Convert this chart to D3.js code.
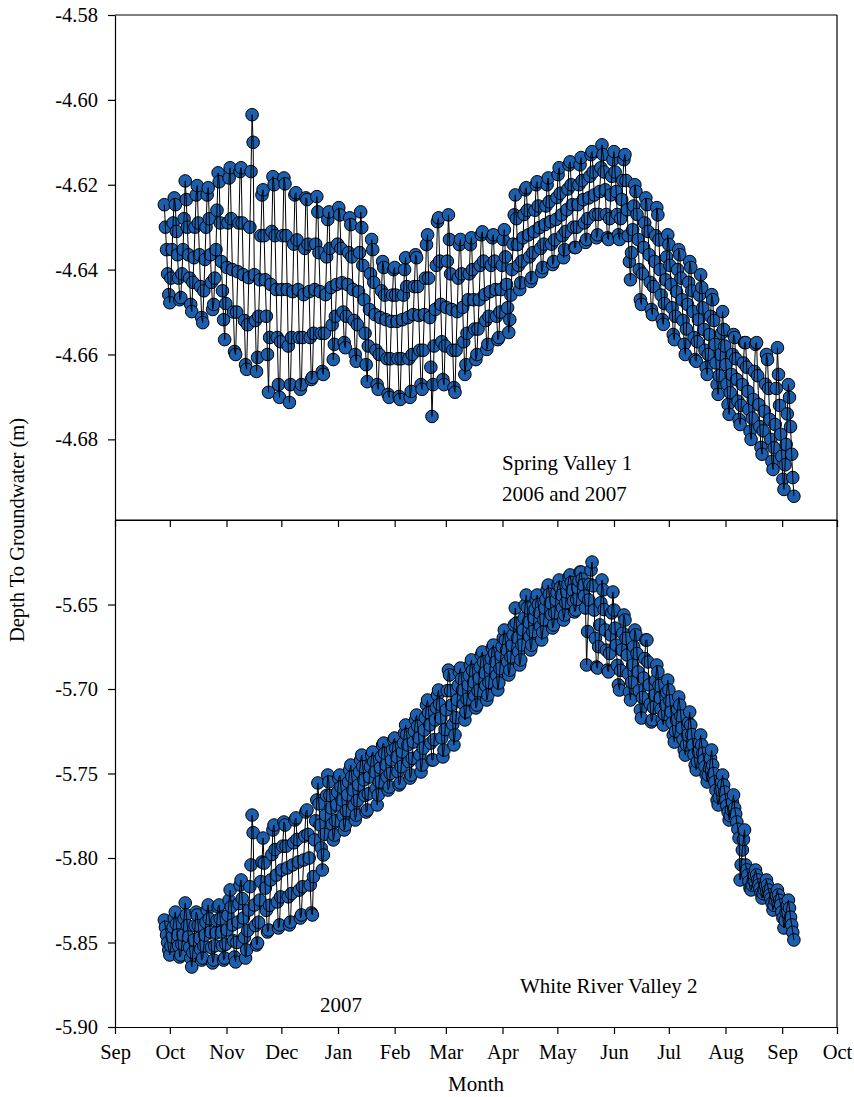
<!DOCTYPE html>
<html lang="en">
<head>
    <meta charset="UTF-8">
    <title>Depth To Groundwater</title>
    <script src="https://d3js.org/d3.v7.min.js"></script>
    <style>
        body {
            margin: 0;
            background: #fff;
        }

        svg text {
            font-family: "Liberation Serif", "Times New Roman", serif;
            fill: #000;
        }

        .axis path,
        .axis line {
            stroke: #000;
            stroke-width: 1.2px;
        }

        .axis text {
            font-size: 20.5px;
        }

        .trace {
            fill: none;
            stroke: #000;
            stroke-width: 1px;
        }

        .pt {
            fill: #1c5fae;
            stroke: #000;
            stroke-width: 1px;
        }
    </style>
</head>
<body>
    <script>
        // sample days, counted from 1 Sep 2006
        const sampleDay = [
            27, 30, 33, 36, 39, 42, 45, 48, 51, 54,
            57, 60, 63, 66, 69, 72, 75, 78, 81, 84,
            87, 90, 93, 96, 99, 102, 105, 108, 111, 114,
            117, 120, 123, 126, 129, 132, 135, 138, 141, 144,
            147, 150, 153, 156, 159, 162, 165, 168, 171, 174,
            177, 180, 183, 186, 189, 192, 195, 198, 201, 204,
            207, 210, 213, 216, 219, 222, 225, 228, 231, 234,
            237, 240, 243, 246, 249, 252, 255, 258, 261, 264,
            267, 270, 273, 276, 279, 282, 285, 288, 291, 294,
            297, 300, 303, 306, 309, 312, 315, 318, 321, 324,
            327, 330, 333, 336, 339, 342, 345, 348, 351, 354,
            357, 360, 363, 366, 369
        ];
        // hours into each sample window at which the five readings fall
        const readingHour = [0, 14, 29, 43, 58];

        // Spring Valley 1: readings across each swing, top to bottom (m)
        const springHigh = [
            -4.6247, -4.6231, -4.6247, -4.6191, -4.6235, -4.6224, -4.6202, -4.6224, -4.6207, -4.6172,
            -4.6193, -4.6184, -4.6160, -4.6169, -4.6160, -4.6169, -4.6035, -4.6224, -4.6212, -4.6181,
            -4.6200, -4.6184, -4.6198, -4.6224, -4.6219, -4.6231, -4.6235, -4.6228, -4.6264, -4.6282,
            -4.6264, -4.6254, -4.6271, -4.6278, -4.6294, -4.6264, -4.6301, -4.6329, -4.6353, -4.6381,
            -4.6395, -4.6400, -4.6395, -4.6400, -4.6372, -4.6365, -4.6372, -4.6341, -4.6318, -4.6287,
            -4.6278, -4.6271, -4.6329, -4.6341, -4.6329, -4.6341, -4.6325, -4.6318, -4.6311, -4.6325,
            -4.6318, -4.6329, -4.6306, -4.6271, -4.6224, -4.6212, -4.6207, -4.6200, -4.6193, -4.6200,
            -4.6184, -4.6176, -4.6160, -4.6153, -4.6146, -4.6153, -4.6136, -4.6129, -4.6122, -4.6106,
            -4.6129, -4.6141, -4.6122, -4.6141, -4.6129, -4.6200, -4.6216, -4.6231, -4.6247, -4.6254,
            -4.6271, -4.6318, -4.6341, -4.6353, -4.6365, -4.6381, -4.6395, -4.6412, -4.6442, -4.6459,
            -4.6471, -4.6499, -4.6541, -4.6553, -4.6560, -4.6572, -4.6572, -4.6576, -4.6572, -4.6600,
            -4.6612, -4.6584, -4.6647, -4.6671, -4.6701
        ];
        const springUpper = [
            -4.630, -4.629, -4.631, -4.628, -4.630, -4.630, -4.629, -4.630, -4.628, -4.626,
            -4.629, -4.629, -4.628, -4.629, -4.629, -4.630, -4.610, -4.632, -4.632, -4.631,
            -4.632, -4.632, -4.632, -4.634, -4.633, -4.635, -4.634, -4.634, -4.636, -4.637,
            -4.635, -4.634, -4.635, -4.636, -4.637, -4.636, -4.639, -4.641, -4.643, -4.645,
            -4.646, -4.646, -4.646, -4.646, -4.644, -4.644, -4.644, -4.642, -4.642, -4.639,
            -4.638, -4.638, -4.641, -4.642, -4.641, -4.641, -4.640, -4.639, -4.638, -4.639,
            -4.638, -4.639, -4.637, -4.634, -4.628, -4.627, -4.626, -4.626, -4.625, -4.625,
            -4.624, -4.623, -4.622, -4.621, -4.620, -4.620, -4.619, -4.618, -4.617, -4.616,
            -4.617, -4.618, -4.617, -4.619, -4.619, -4.625, -4.627, -4.629, -4.631, -4.632,
            -4.633, -4.637, -4.639, -4.640, -4.642, -4.643, -4.645, -4.646, -4.649, -4.651,
            -4.652, -4.655, -4.658, -4.660, -4.661, -4.662, -4.663, -4.664, -4.665, -4.667,
            -4.668, -4.668, -4.672, -4.674, -4.677
        ];
        const springMid = [
            -4.6353, -4.6353, -4.6365, -4.6353, -4.6365, -4.6372, -4.6365, -4.6376, -4.6365, -4.6353,
            -4.6381, -4.6395, -4.6400, -4.6405, -4.6412, -4.6419, -4.6412, -4.6424, -4.6424, -4.6435,
            -4.6447, -4.6447, -4.6447, -4.6452, -4.6447, -4.6459, -4.6452, -4.6447, -4.6452, -4.6459,
            -4.6442, -4.6435, -4.6431, -4.6435, -4.6447, -4.6452, -4.6471, -4.6494, -4.6506, -4.6513,
            -4.6518, -4.6522, -4.6522, -4.6518, -4.6513, -4.6506, -4.6508, -4.6506, -4.6513, -4.6494,
            -4.6482, -4.6489, -4.6494, -4.6499, -4.6489, -4.6471, -4.6471, -4.6471, -4.6459, -4.6452,
            -4.6447, -4.6447, -4.6435, -4.6400, -4.6341, -4.6325, -4.6318, -4.6311, -4.6301, -4.6294,
            -4.6287, -4.6282, -4.6271, -4.6259, -4.6247, -4.6247, -4.6235, -4.6231, -4.6224, -4.6216,
            -4.6212, -4.6224, -4.6216, -4.6235, -4.6259, -4.6306, -4.6329, -4.6348, -4.6365, -4.6381,
            -4.6400, -4.6424, -4.6435, -4.6452, -4.6471, -4.6482, -4.6499, -4.6518, -4.6541, -4.6553,
            -4.6576, -4.6600, -4.6624, -4.6647, -4.6659, -4.6671, -4.6687, -4.6706, -4.6718, -4.6734,
            -4.6753, -4.6765, -4.6788, -4.6812, -4.6835
        ];
        const springLower = [
            -4.641, -4.642, -4.642, -4.641, -4.642, -4.643, -4.644, -4.645, -4.643, -4.642,
            -4.645, -4.648, -4.650, -4.650, -4.652, -4.653, -4.652, -4.651, -4.651, -4.656,
            -4.656, -4.657, -4.658, -4.656, -4.656, -4.656, -4.656, -4.655, -4.655, -4.655,
            -4.653, -4.651, -4.650, -4.651, -4.652, -4.653, -4.655, -4.658, -4.659, -4.660,
            -4.661, -4.661, -4.661, -4.661, -4.661, -4.660, -4.659, -4.659, -4.663, -4.658,
            -4.657, -4.658, -4.659, -4.659, -4.657, -4.655, -4.654, -4.654, -4.652, -4.651,
            -4.651, -4.650, -4.649, -4.646, -4.639, -4.638, -4.637, -4.636, -4.635, -4.634,
            -4.634, -4.633, -4.632, -4.631, -4.630, -4.630, -4.629, -4.628, -4.627, -4.627,
            -4.627, -4.628, -4.627, -4.628, -4.632, -4.636, -4.640, -4.641, -4.643, -4.644,
            -4.646, -4.648, -4.649, -4.651, -4.652, -4.654, -4.656, -4.657, -4.659, -4.660,
            -4.662, -4.665, -4.667, -4.669, -4.671, -4.672, -4.673, -4.675, -4.677, -4.678,
            -4.680, -4.682, -4.684, -4.686, -4.689
        ];
        const springLow = [
            -4.6459, -4.6478, -4.6471, -4.6466, -4.6482, -4.6499, -4.6513, -4.6525, -4.6494, -4.6482,
            -4.6518, -4.6565, -4.6593, -4.6600, -4.6624, -4.6635, -4.6640, -4.6607, -4.6600, -4.6689,
            -4.6671, -4.6701, -4.6713, -4.6671, -4.6682, -4.6671, -4.6659, -4.6654, -4.6640, -4.6647,
            -4.6612, -4.6576, -4.6572, -4.6584, -4.6600, -4.6616, -4.6624, -4.6664, -4.6671, -4.6682,
            -4.6694, -4.6701, -4.6699, -4.6706, -4.6701, -4.6687, -4.6671, -4.6682, -4.6746, -4.6671,
            -4.6659, -4.6671, -4.6678, -4.6689, -4.6647, -4.6624, -4.6612, -4.6600, -4.6588, -4.6576,
            -4.6565, -4.6560, -4.6548, -4.6518, -4.6447, -4.6431, -4.6428, -4.6419, -4.6405, -4.6395,
            -4.6388, -4.6381, -4.6372, -4.6353, -4.6348, -4.6348, -4.6336, -4.6329, -4.6325, -4.6318,
            -4.6325, -4.6329, -4.6318, -4.6329, -4.6381, -4.6424, -4.6471, -4.6482, -4.6494, -4.6506,
            -4.6518, -4.6529, -4.6553, -4.6565, -4.6576, -4.6600, -4.6612, -4.6616, -4.6631, -4.6647,
            -4.6671, -4.6694, -4.6718, -4.6741, -4.6753, -4.6765, -4.6781, -4.6800, -4.6819, -4.6835,
            -4.6852, -4.6871, -4.6894, -4.6918, -4.6934
        ];

        // White River Valley 2: readings across each swing, top to bottom (m)
        const whiteHigh = [
            -5.8367, -5.8355, -5.8320, -5.8266, -5.8337, -5.8320, -5.8337, -5.8308, -5.8278, -5.8290,
            -5.8278, -5.8249, -5.8189, -5.8160, -5.8130, -5.8041, -5.7746, -5.8024, -5.7882, -5.7834,
            -5.7805, -5.7787, -5.7805, -5.7775, -5.7763, -5.7728, -5.7716, -5.7657, -5.7556, -5.7509,
            -5.7550, -5.7527, -5.7509, -5.7479, -5.7450, -5.7420, -5.7391, -5.7391, -5.7373, -5.7331,
            -5.7320, -5.7302, -5.7290, -5.7260, -5.7213, -5.7183, -5.7154, -5.7095, -5.7065, -5.7036,
            -5.7006, -5.6888, -5.6917, -5.6899, -5.6876, -5.6858, -5.6828, -5.6799, -5.6781, -5.6757,
            -5.6740, -5.6698, -5.6651, -5.6621, -5.6521, -5.6503, -5.6444, -5.6473, -5.6444, -5.6414,
            -5.6385, -5.6385, -5.6355, -5.6337, -5.6325, -5.6308, -5.6308, -5.6296, -5.6249, -5.6355,
            -5.6414, -5.6426, -5.6533, -5.6562, -5.6592, -5.6651, -5.6680, -5.6710, -5.6710, -5.6858,
            -5.6899, -5.6947, -5.7006, -5.7047, -5.7095, -5.7136, -5.7213, -5.7272, -5.7331, -5.7361,
            -5.7450, -5.7509, -5.7568, -5.7627, -5.7704, -5.7834, -5.8041, -5.8071, -5.8101, -5.8130,
            -5.8160, -5.8189, -5.8219, -5.8249, -5.8296
        ];
        const whiteUpper = [
            -5.841, -5.841, -5.839, -5.836, -5.840, -5.840, -5.840, -5.838, -5.836, -5.837,
            -5.836, -5.834, -5.829, -5.827, -5.824, -5.817, -5.785, -5.814, -5.803, -5.798,
            -5.795, -5.793, -5.793, -5.791, -5.789, -5.787, -5.786, -5.778, -5.768, -5.763,
            -5.763, -5.761, -5.758, -5.755, -5.752, -5.749, -5.746, -5.746, -5.743, -5.740,
            -5.738, -5.736, -5.735, -5.732, -5.727, -5.725, -5.722, -5.717, -5.714, -5.711,
            -5.709, -5.701, -5.701, -5.698, -5.694, -5.692, -5.689, -5.687, -5.684, -5.682,
            -5.679, -5.675, -5.671, -5.668, -5.661, -5.658, -5.652, -5.653, -5.650, -5.647,
            -5.644, -5.643, -5.640, -5.638, -5.637, -5.636, -5.635, -5.638, -5.639, -5.649,
            -5.653, -5.655, -5.664, -5.667, -5.670, -5.675, -5.679, -5.682, -5.684, -5.695,
            -5.698, -5.702, -5.707, -5.712, -5.716, -5.720, -5.727, -5.732, -5.738, -5.741,
            -5.750, -5.755, -5.761, -5.767, -5.774, -5.789, -5.807, -5.810, -5.813, -5.816,
            -5.819, -5.822, -5.825, -5.828, -5.835
        ];
        const whiteMid = [
            -5.8456, -5.8467, -5.8456, -5.8456, -5.8467, -5.8485, -5.8473, -5.8456, -5.8438, -5.8444,
            -5.8438, -5.8426, -5.8396, -5.8379, -5.8355, -5.8308, -5.8278, -5.8249, -5.8178, -5.8130,
            -5.8101, -5.8071, -5.8059, -5.8041, -5.8024, -5.8012, -5.8000, -5.7893, -5.7805, -5.7746,
            -5.7704, -5.7686, -5.7657, -5.7627, -5.7598, -5.7568, -5.7538, -5.7521, -5.7491, -5.7467,
            -5.7450, -5.7420, -5.7402, -5.7373, -5.7331, -5.7314, -5.7290, -5.7243, -5.7213, -5.7183,
            -5.7172, -5.7124, -5.7095, -5.7065, -5.7006, -5.6976, -5.6959, -5.6935, -5.6905, -5.6876,
            -5.6840, -5.6799, -5.6769, -5.6740, -5.6698, -5.6651, -5.6604, -5.6580, -5.6550, -5.6521,
            -5.6491, -5.6473, -5.6444, -5.6426, -5.6414, -5.6402, -5.6385, -5.6473, -5.6533, -5.6621,
            -5.6651, -5.6680, -5.6740, -5.6769, -5.6799, -5.6858, -5.6899, -5.6935, -5.6976, -5.7036,
            -5.7053, -5.7095, -5.7136, -5.7183, -5.7231, -5.7272, -5.7331, -5.7373, -5.7420, -5.7467,
            -5.7550, -5.7598, -5.7657, -5.7716, -5.7787, -5.7953, -5.8101, -5.8130, -5.8160, -5.8189,
            -5.8219, -5.8249, -5.8278, -5.8320, -5.8396
        ];
        const whiteLower = [
            -5.850, -5.852, -5.852, -5.851, -5.853, -5.856, -5.854, -5.852, -5.853, -5.852,
            -5.852, -5.851, -5.849, -5.850, -5.847, -5.843, -5.840, -5.838, -5.831, -5.828,
            -5.826, -5.823, -5.823, -5.821, -5.819, -5.817, -5.816, -5.811, -5.794, -5.786,
            -5.780, -5.778, -5.775, -5.772, -5.769, -5.766, -5.763, -5.762, -5.759, -5.755,
            -5.752, -5.750, -5.749, -5.746, -5.743, -5.741, -5.739, -5.735, -5.732, -5.730,
            -5.729, -5.724, -5.721, -5.717, -5.709, -5.706, -5.704, -5.701, -5.698, -5.696,
            -5.692, -5.688, -5.684, -5.681, -5.678, -5.674, -5.669, -5.666, -5.663, -5.659,
            -5.656, -5.655, -5.652, -5.649, -5.648, -5.647, -5.645, -5.666, -5.670, -5.675,
            -5.677, -5.679, -5.686, -5.689, -5.691, -5.696, -5.701, -5.705, -5.709, -5.711,
            -5.712, -5.715, -5.720, -5.725, -5.730, -5.733, -5.739, -5.743, -5.746, -5.751,
            -5.760, -5.764, -5.769, -5.775, -5.783, -5.804, -5.814, -5.816, -5.818, -5.821,
            -5.824, -5.828, -5.832, -5.837, -5.844
        ];
        const whiteLow = [
            -5.8544, -5.8574, -5.8586, -5.8574, -5.8592, -5.8645, -5.8604, -5.8592, -5.8621, -5.8604,
            -5.8604, -5.8592, -5.8586, -5.8615, -5.8592, -5.8544, -5.8515, -5.8503, -5.8438, -5.8426,
            -5.8414, -5.8396, -5.8396, -5.8379, -5.8355, -5.8337, -5.8325, -5.8337, -5.8071, -5.7982,
            -5.7893, -5.7864, -5.7834, -5.7805, -5.7775, -5.7746, -5.7728, -5.7716, -5.7686, -5.7627,
            -5.7598, -5.7580, -5.7568, -5.7556, -5.7527, -5.7509, -5.7491, -5.7450, -5.7420, -5.7420,
            -5.7402, -5.7361, -5.7331, -5.7272, -5.7183, -5.7136, -5.7112, -5.7095, -5.7065, -5.7036,
            -5.7006, -5.6964, -5.6917, -5.6888, -5.6858, -5.6828, -5.6769, -5.6740, -5.6710, -5.6663,
            -5.6639, -5.6621, -5.6592, -5.6562, -5.6544, -5.6533, -5.6521, -5.6858, -5.6870, -5.6876,
            -5.6888, -5.6899, -5.6976, -5.7006, -5.7018, -5.7065, -5.7124, -5.7172, -5.7195, -5.7183,
            -5.7183, -5.7213, -5.7272, -5.7314, -5.7361, -5.7391, -5.7450, -5.7479, -5.7509, -5.7550,
            -5.7657, -5.7686, -5.7728, -5.7775, -5.7882, -5.8130, -5.8178, -5.8189, -5.8207, -5.8237,
            -5.8266, -5.8308, -5.8355, -5.8414, -5.8485
        ];

        const monthTicks = ["Sep", "Oct", "Nov", "Dec", "Jan", "Feb", "Mar", "Apr", "May", "Jun", "Jul", "Aug", "Sep", "Oct"];
        const springTicks = [-4.58, -4.60, -4.62, -4.64, -4.66, -4.68];
        const whiteTicks = [-5.65, -5.70, -5.75, -5.80, -5.85, -5.90];

        const width = 854, height = 1097;
        const left = 115, right = 837;

        const svg = d3.select("body").append("svg")
            .attr("width", width)
            .attr("height", height);

        const start = new Date(Date.UTC(2006, 8, 1));
        const x = d3.scaleUtc()
            .domain([start, new Date(Date.UTC(2007, 9, 1))])
            .range([left, right]);
        const readingDate = (d, h) => d3.utcHour.offset(d3.utcDay.offset(start, d), h);
        const monthDates = d3.utcMonth.range(start, new Date(Date.UTC(2007, 9, 2)));
        const fmt = d => d3.format(".2f")(d).replace("\u2212", "-");

        const panels = [
            {
                top: 15, bottom: 520, domain: [-4.699, -4.58], ticks: springTicks,
                series: [springHigh, springUpper, springMid, springLower, springLow],
                labels: [["Spring Valley 1", 502, 470], ["2006 and 2007", 502, 501]],
                xLabels: false
            },
            {
                top: 520, bottom: 1027, domain: [-5.90, -5.60], ticks: whiteTicks,
                series: [whiteHigh, whiteUpper, whiteMid, whiteLower, whiteLow],
                labels: [["White River Valley 2", 520, 993], ["2007", 320, 1012]],
                xLabels: true
            }
        ];

        panels.forEach(p => {
            const y = d3.scaleLinear().domain(p.domain).range([p.bottom, p.top]);
            const g = svg.append("g");

            // readings in time order, swinging down and then back up
            const pts = [];
            sampleDay.forEach((d, i) => {
                const vals = p.series.map(s => s[i]);
                if (i % 2) vals.reverse();
                vals.forEach((v, k) => pts.push({ date: readingDate(d, readingHour[k]), value: v }));
            });

            g.selectAll("circle")
                .data(pts)
                .enter().append("circle")
                .attr("class", "pt")
                .attr("cx", d => x(d.date))
                .attr("cy", d => y(d.value))
                .attr("r", 6.3);

            g.append("path")
                .attr("class", "trace")
                .attr("d", d3.line().x(d => x(d.date)).y(d => y(d.value))(pts));

            // frame
            svg.append("line")
                .attr("x1", left).attr("x2", right).attr("y1", p.top).attr("y2", p.top)
                .attr("stroke", "#000").attr("stroke-width", 1.2);
            svg.append("line")
                .attr("x1", right).attr("x2", right).attr("y1", p.top).attr("y2", p.bottom)
                .attr("stroke", "#000").attr("stroke-width", 1.2);

            svg.append("g")
                .attr("class", "axis")
                .attr("transform", `translate(${left},0)`)
                .call(d3.axisLeft(y).tickValues(p.ticks).tickFormat(fmt)
                    .tickSize(7).tickPadding(10).tickSizeOuter(0));

            svg.append("g")
                .attr("class", "axis")
                .attr("transform", `translate(0,${p.bottom})`)
                .call(d3.axisBottom(x).tickValues(monthDates).tickSize(7).tickSizeOuter(0)
                    .tickPadding(10)
                    .tickFormat((d, i) => p.xLabels ? monthTicks[i] : ""));

            p.labels.forEach(l => {
                svg.append("text")
                    .attr("x", l[1])
                    .attr("y", l[2])
                    .attr("font-size", 21)
                    .text(l[0]);
            });
        });

        svg.append("text")
            .attr("transform", "translate(24,530) rotate(-90)")
            .attr("text-anchor", "middle")
            .attr("font-size", 20.5)
            .text("Depth To Groundwater (m)");

        svg.append("text")
            .attr("x", 476)
            .attr("y", 1091)
            .attr("text-anchor", "middle")
            .attr("font-size", 21)
            .text("Month");
    </script>
</body>
</html>
